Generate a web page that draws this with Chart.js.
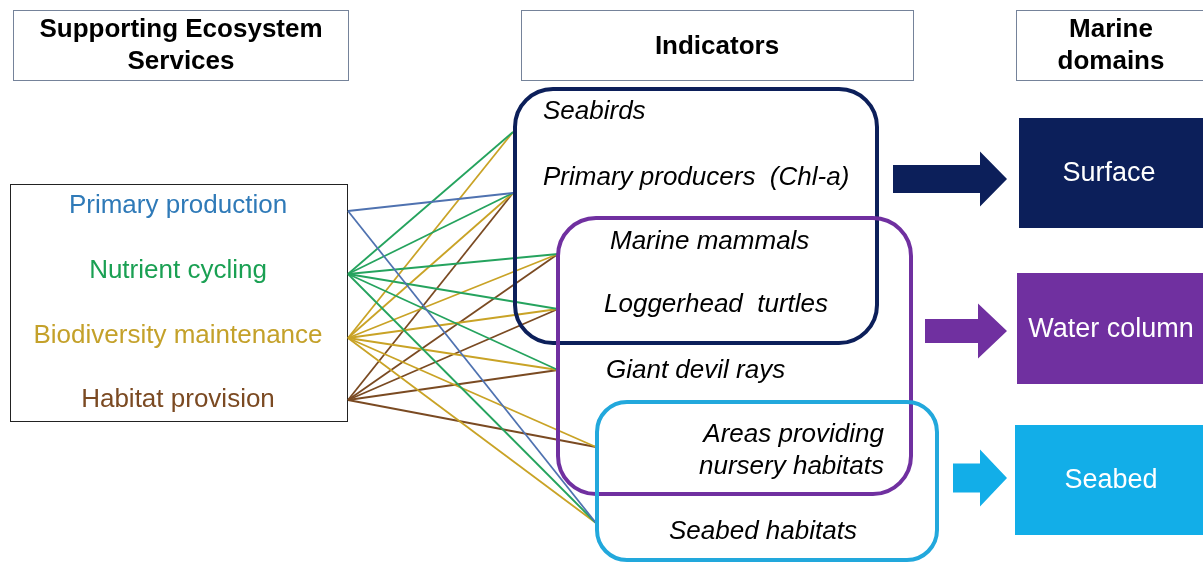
<!DOCTYPE html>
<html>
<head>
<meta charset="utf-8">
<script src="https://cdn.jsdelivr.net/npm/chart.js@4.4.1/dist/chart.umd.min.js"></script>
<style>
  html, body { margin: 0; padding: 0; background: #ffffff; }
  #wrap { width: 1203px; height: 563px; position: relative; }
</style>
</head>
<body>
<div id="wrap"><canvas id="c"></canvas></div>
<script>
// ---------- DATA ----------
const headers = ['Supporting Ecosystem\nServices', 'Indicators', 'Marine\ndomains'];
const services = ['Primary production', 'Nutrient cycling', 'Biodiversity maintenance', 'Habitat provision'];
const indicators = ['Seabirds', 'Primary producers  (Chl-a)', 'Marine mammals', 'Loggerhead  turtles',
                    'Giant devil rays', 'Areas providing\nnursery habitats', 'Seabed habitats'];
const domains = ['Surface', 'Water column', 'Seabed'];
// indicator indices linked from each service
const primaryProductionLinks = [1, 6];
const nutrientCyclingLinks = [0, 1, 2, 3, 4, 6];
const biodiversityLinks = [0, 1, 2, 3, 4, 5, 6];
const habitatProvisionLinks = [1, 2, 3, 4, 5];
const serviceLinks = [primaryProductionLinks, nutrientCyclingLinks, biodiversityLinks, habitatProvisionLinks];
// indicators grouped into each domain
const surfaceIndicators = [0, 1, 2, 3];
const waterColumnIndicators = [2, 3, 4, 5];
const seabedIndicators = [5, 6];

// ---------- LAYOUT / STYLE ----------
const serviceColors = ['#4f72b0', '#25a35e', '#c9a326', '#7a4a22'];
const serviceTextColors = ['#2f7ab8', '#1aa053', '#c4a12a', '#7b4a22'];
const domainColors = ['#0c1f5a', '#7030a0', '#12aee8'];
const groupStroke = ['#0c1f5a', '#7030a0', '#22a8dc'];
const serviceAnchorX = 348;
const serviceAnchorY = [211, 274, 338, 400];
const serviceTextY = [206, 271, 336, 400];
const indicatorAnchor = [[513, 132], [513, 193], [558, 254], [558, 309], [558, 370], [596, 447], [596, 523]];

const datasets = [];
serviceLinks.forEach((arr, s) => {
  arr.forEach(t => {
    datasets.push({
      data: [{x: serviceAnchorX, y: serviceAnchorY[s]}, {x: indicatorAnchor[t][0], y: indicatorAnchor[t][1]}],
      borderColor: serviceColors[s],
      borderWidth: 1.8,
      pointRadius: 0,
      showLine: true,
      tension: 0,
      fill: false
    });
  });
});

const FONT = '"Liberation Sans", Arial, sans-serif';

function rrect(ctx, x, y, w, h, r) {
  ctx.beginPath();
  ctx.moveTo(x + r, y);
  ctx.lineTo(x + w - r, y);
  ctx.arcTo(x + w, y, x + w, y + r, r);
  ctx.lineTo(x + w, y + h - r);
  ctx.arcTo(x + w, y + h, x + w - r, y + h, r);
  ctx.lineTo(x + r, y + h);
  ctx.arcTo(x, y + h, x, y + h - r, r);
  ctx.lineTo(x, y + r);
  ctx.arcTo(x, y, x + r, y, r);
  ctx.closePath();
}

function arrow(ctx, X, Y, x0, x1, tip, cy, bh, hh, color) {
  const px = v => X.getPixelForValue(v), py = v => Y.getPixelForValue(v);
  ctx.fillStyle = color;
  ctx.beginPath();
  ctx.moveTo(px(x0), py(cy - bh / 2));
  ctx.lineTo(px(x1), py(cy - bh / 2));
  ctx.lineTo(px(x1), py(cy - hh / 2));
  ctx.lineTo(px(tip), py(cy));
  ctx.lineTo(px(x1), py(cy + hh / 2));
  ctx.lineTo(px(x1), py(cy + bh / 2));
  ctx.lineTo(px(x0), py(cy + bh / 2));
  ctx.closePath();
  ctx.fill();
}

const backPlugin = {
  id: 'back',
  beforeDatasetsDraw(chart) {
    const ctx = chart.ctx, X = chart.scales.x, Y = chart.scales.y;
    const px = v => X.getPixelForValue(v), py = v => Y.getPixelForValue(v);
    ctx.save();
    // header boxes
    const hb = [[13, 10, 335, 70], [521, 10, 392, 70], [1016, 10, 200, 70]];
    const hcx = [181, 717, 1111];
    ctx.strokeStyle = '#75839a';
    ctx.lineWidth = 1;
    hb.forEach((b, i) => {
      ctx.strokeRect(px(b[0]) + 0.5, py(b[1]) + 0.5, b[2], b[3]);
      ctx.fillStyle = '#000';
      ctx.font = 'bold 26px ' + FONT;
      ctx.textAlign = 'center';
      ctx.textBaseline = 'middle';
      const lines = headers[i].split('\n');
      if (lines.length === 1) ctx.fillText(lines[0], px(hcx[i]), py(47));
      else { ctx.fillText(lines[0], px(hcx[i]), py(30)); ctx.fillText(lines[1], px(hcx[i]), py(62)); }
    });
    // services box
    ctx.strokeStyle = '#222';
    ctx.strokeRect(px(10) + 0.5, py(184) + 0.5, 337, 237);
    ctx.font = '26px ' + FONT;
    services.forEach((s, i) => {
      ctx.fillStyle = serviceTextColors[i];
      ctx.fillText(s, px(178), py(serviceTextY[i]));
    });
    ctx.restore();
  },
  afterDatasetsDraw(chart) {
    const ctx = chart.ctx, X = chart.scales.x, Y = chart.scales.y;
    const px = v => X.getPixelForValue(v), py = v => Y.getPixelForValue(v);
    ctx.save();
    // group rounded rectangles
    ctx.lineWidth = 4;
    const groups = [[515, 89, 362, 254, 38], [558, 218, 353, 276, 38], [597, 402, 340, 158, 30]];
    groups.forEach((g, i) => {
      ctx.strokeStyle = groupStroke[i];
      rrect(ctx, px(g[0]), py(g[1]), g[2], g[3], g[4]);
      ctx.stroke();
    });
    // indicator labels
    ctx.fillStyle = '#000';
    ctx.font = 'italic 26px ' + FONT;
    ctx.textBaseline = 'middle';
    const lab = [[543, 112, 'left'], [543, 178, 'left'], [610, 242, 'left'], [604, 305, 'left'],
                 [606, 371, 'left'], [884, 435, 'right'], [669, 532, 'left']];
    indicators.forEach((t, i) => {
      ctx.textAlign = lab[i][2];
      const lines = t.split('\n');
      if (lines.length === 1) ctx.fillText(t, px(lab[i][0]), py(lab[i][1]));
      else { ctx.fillText(lines[0], px(lab[i][0]), py(lab[i][1])); ctx.fillText(lines[1], px(lab[i][0]), py(lab[i][1] + 32)); }
    });
    // arrows
    arrow(ctx, X, Y, 893, 980, 1007, 179, 28, 55, domainColors[0]);
    arrow(ctx, X, Y, 925, 978, 1007, 331, 24, 55, domainColors[1]);
    arrow(ctx, X, Y, 953, 980, 1007, 478, 29, 57, domainColors[2]);
    // domain boxes
    const db = [[1019, 118, 110], [1017, 273, 111], [1015, 425, 110]];
    const dcx = [1109, 1111, 1111];
    domains.forEach((d, i) => {
      ctx.fillStyle = domainColors[i];
      ctx.fillRect(px(db[i][0]), py(db[i][1]), 1203 - db[i][0], db[i][2]);
      ctx.fillStyle = '#fff';
      ctx.font = '27px ' + FONT;
      ctx.textAlign = 'center';
      ctx.fillText(d, px(dcx[i]), py(db[i][1] + db[i][2] / 2 + 1));
    });
    ctx.restore();
  }
};

new Chart(document.getElementById('c'), {
  type: 'scatter',
  data: { datasets },
  options: {
    responsive: true,
    maintainAspectRatio: false,
    animation: false,
    layout: { padding: 0 },
    plugins: { legend: { display: false }, tooltip: { enabled: false } },
    scales: {
      x: { type: 'linear', min: 0, max: 1203, display: false },
      y: { type: 'linear', min: 0, max: 563, reverse: true, display: false }
    }
  },
  plugins: [backPlugin]
});
</script>
</body>
</html>
